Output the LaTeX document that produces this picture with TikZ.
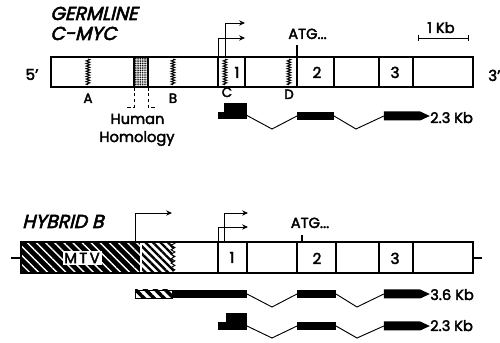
\documentclass[tikz,border=0pt]{standalone}
\usepackage{fontspec}
\setmainfont{Poppins}[FakeBold=2.5]
\newfontfamily\titlefont{Poppins}[FakeSlant=0.25, FakeBold=3]
\usetikzlibrary{arrows.meta,decorations.pathmorphing,patterns.meta,shapes.symbols}

\tikzset{
  genebox/.style={draw, line width=0.9pt},
  exonline/.style={line width=0.9pt},
  site/.style={line width=0.8pt, decorate, decoration={zigzag, segment length=2.2pt, amplitude=1.6pt}},
  lbl/.style={font=\fontsize{12.5}{14}\selectfont, inner sep=0pt, anchor=base},
  sitelbl/.style={font=\fontsize{11.5}{13}\selectfont, inner sep=0pt, anchor=base},
  exnum/.style={font=\fontsize{13}{15}\selectfont, inner sep=0pt, anchor=base},
  ttl/.style={font=\titlefont\fontsize{16}{16}\selectfont, inner sep=0pt, anchor=base west},
  prom/.style={line width=0.8pt, -{Stealth[length=5pt, width=4.5pt]}},
  bar/.style={fill=black, inner sep=0pt, outer sep=0pt, minimum height=8*0.03cm, minimum width=#1*0.03cm},
  lastexon/.style={signal, signal to=east, signal pointer angle=50, fill=black, inner sep=0pt, outer sep=0pt,
    minimum height=9*0.03cm, minimum width=#1*0.03cm},
  intron/.style={line width=0.8pt},
  mtvbox/.style={fill=white, inner sep=0pt, minimum width=39*0.03cm, minimum height=14*0.03cm, font=\fontsize{12.5}{14}\selectfont},
}

\begin{document}
\begin{tikzpicture}[x=0.03cm, y=-0.03cm]
    \useasboundingbox (0,0) rectangle (500,343);

    \node[ttl] (germline) at (50,20) {GERMLINE};
    \node[ttl] (cmyc) at (50,40) {C-MYC};
    \node[ttl] (hybrid) at (22,228) {HYBRID B};

    % germline gene
    \draw[genebox] (51,57) rectangle (473,87);
    \fill[pattern={Dots[distance=1.5pt, radius=0.6pt]}] (134,57) rectangle (148,87);
    \draw[exonline] (134,57) -- (134,87) (148,57) -- (148,87);
    \foreach \x in {218,245,297,334,379,413}
        \draw[exonline] (\x,57) -- (\x,87);
    \foreach \x in {88,173,225,289}
        \draw[site] (\x,59) -- (\x,85);
    \draw[dashed, dash pattern=on 3pt off 2pt, line width=0.7pt] (134,87) -- (134,107) -- (125,107);
    \draw[dashed, dash pattern=on 3pt off 2pt, line width=0.7pt] (148,87) -- (148,107) -- (157,107);

    \node[exnum] (five) at (32,80) {5'};
    \node[exnum, anchor=base west] (three) at (488,81) {3'};
    \node[exnum] (gex1) at (237,78) {1};
    \node[exnum] (gex2) at (317,78) {2};
    \node[exnum] (gex3) at (395,78) {3};
    \node[sitelbl] (siteA) at (88,103) {A};
    \node[sitelbl] (siteB) at (173,103) {B};
    \node[sitelbl] (siteC) at (227,97) {C};
    \node[sitelbl] (siteD) at (289,99) {D};
    \node[lbl] (human) at (137.5,124) {Human};
    \node[lbl] (homology) at (137,142) {Homology};

    \node[lbl] (atgg) at (307.5,39) {ATG...};
    \draw[exonline] (297,45) -- (297,57);

    \node[lbl] (kb) at (441,33) {1 Kb};
    \draw[line width=0.8pt] (418,35) -- (418,41) (418,38) -- (468,38) (468,35) -- (468,41);

    \coordinate (gtss1) at (225,57);
    \coordinate (gtss2) at (218,57);
    \draw[prom] (gtss1) |- (245,23);
    \draw[prom] (gtss2) |- (245,38);

    % germline transcript
    \node[bar=29, minimum height=7*0.03cm] (gt1) at (232.5,115.5) {};
    \node[bar=23, minimum height=9*0.03cm] (gt1cap) at (235.5,107.5) {};
    \node[bar=37] (gt2) at (315.5,116) {};
    \node[lastexon=46] (gt3) at (402,116) {};
    \draw[intron] (gt1.east) -- (272,129) -- (gt2.west);
    \draw[intron] (gt2.east) -- (356,129) -- (gt3.west);
    \node[lbl, anchor=base west] (gsize) at (430,123) {2.3 Kb};

    % hybrid gene
    \draw[exonline] (11,258) -- (21,258);
    \draw[exonline] (473,258) -- (482,258);
    \fill[black] (21,242) rectangle (140,273);
    \fill[pattern={Lines[angle=-45, distance=5.5pt, line width=1.2pt]}, pattern color=white] (21,242) rectangle (140,273);
    \fill[pattern={Lines[angle=-45, distance=4.5pt, line width=2pt]}] (142,242) -- (173,242)
        decorate[decoration={zigzag, segment length=3.8pt, amplitude=1.6pt}]{-- (173,273)} -- (142,273) -- cycle;
    \draw[line width=0.8pt, decorate, decoration={zigzag, segment length=3.8pt, amplitude=1.6pt}] (173,242) -- (173,273);
    \draw[genebox] (21,242) rectangle (473,273);
    \foreach \x in {218,247,297,336,379,413}
        \draw[exonline] (\x,242) -- (\x,273);
    \node[mtvbox] (mtv) at (82,258) {M\,T\,V};

    \node[exnum] (hex1) at (232,263) {1};
    \node[exnum] (hex2) at (317,264) {2};
    \node[exnum] (hex3) at (395,264) {3};

    \node[lbl] (atgh) at (310,228) {ATG...};
    \draw[exonline] (302,235) -- (302,242);

    \coordinate (htss0) at (135,242);
    \coordinate (htss1) at (224,242);
    \coordinate (htss2) at (218,242);
    \draw[prom] (htss0) |- (172,213);
    \draw[prom] (htss1) |- (248,213);
    \draw[prom] (htss2) |- (248,227);

    % 3.6 Kb transcript
    \node[bar=37, draw, line width=0.6pt, pattern={Lines[angle=-45, distance=6pt, line width=3pt]}] (lt0) at (153.5,294) {};
    \node[bar=75] (lt1) at (209.5,294) {};
    \node[bar=39] (lt2) at (316.5,294) {};
    \node[lastexon=46] (lt3) at (402,294) {};
    \draw[intron] (lt1.east) -- (272,307) -- (lt2.west);
    \draw[intron] (lt2.east) -- (357,307) -- (lt3.west);
    \node[lbl, anchor=base west] (lsize) at (430,300) {3.6 Kb};

    % 2.3 Kb transcript
    \node[bar=29] (st1) at (232.5,326) {};
    \node[bar=21, minimum height=9*0.03cm] (st1cap) at (236.5,317.5) {};
    \node[bar=39] (st2) at (316.5,326) {};
    \node[lastexon=46] (st3) at (402,326) {};
    \draw[intron] (st1.east) -- (272,338) -- (st2.west);
    \draw[intron] (st2.east) -- (357,338) -- (st3.west);
    \node[lbl, anchor=base west] (ssize) at (430,331) {2.3 Kb};
\end{tikzpicture}
\end{document}
